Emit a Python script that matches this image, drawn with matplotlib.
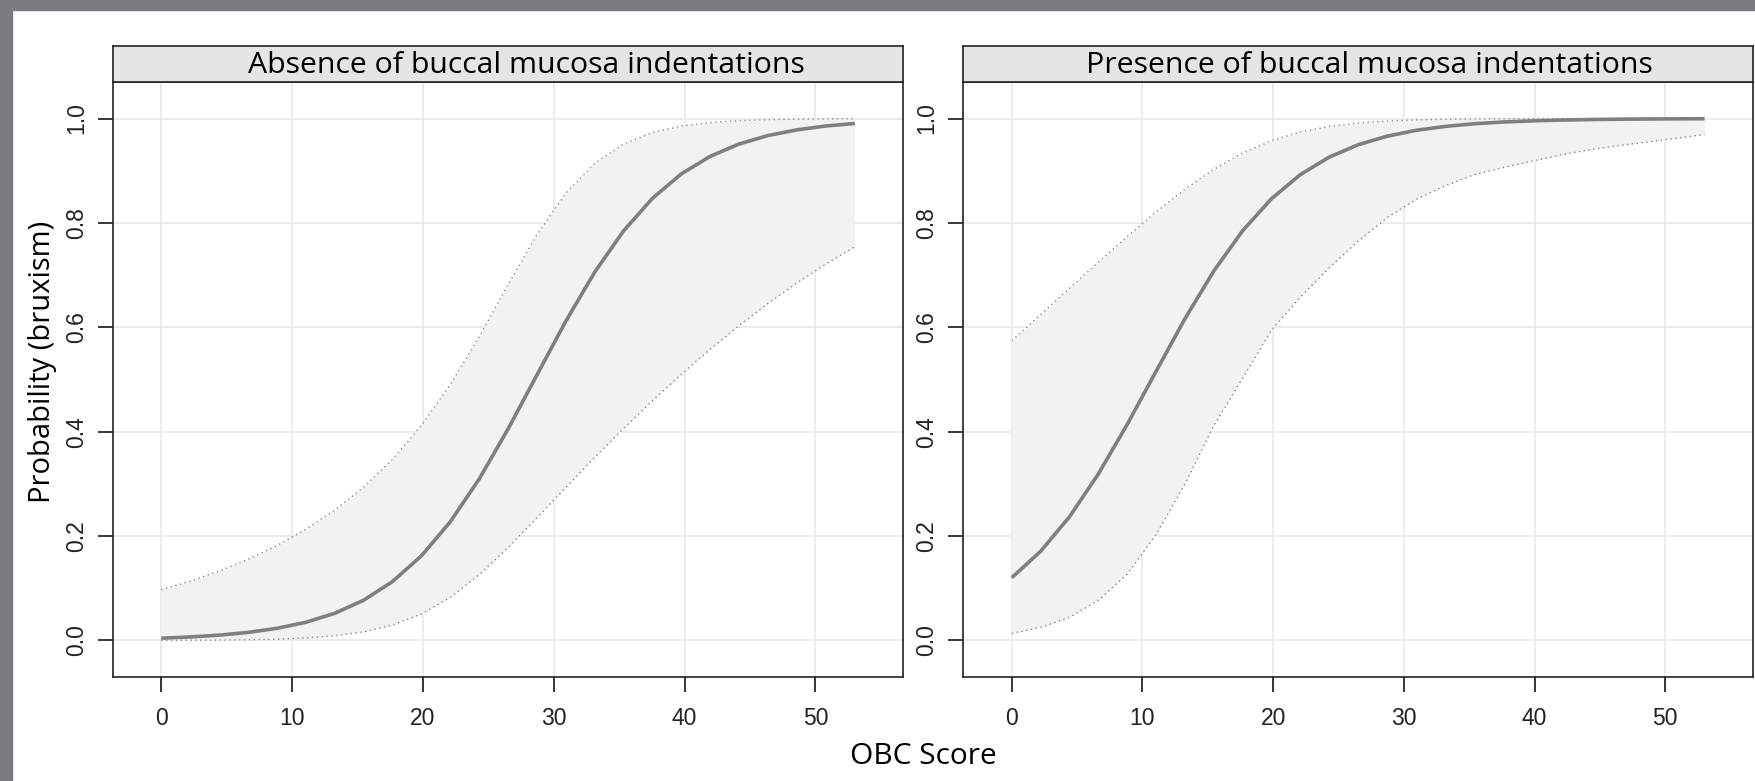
import numpy as np
import matplotlib.pyplot as plt
from matplotlib.patches import Rectangle

# OBC score grid used for the predictions
obc_score = [0, 2.21, 4.42, 6.63, 8.83, 11.04, 13.25, 15.46, 17.67, 19.88, 22.08, 24.29,
             26.5, 28.71, 30.92, 33.13, 35.33, 37.54, 39.75, 41.96, 44.17, 46.38, 48.58,
             50.79, 53.0]

# panel 1: absence of buccal mucosa indentations
absent_fit = [0.0044, 0.0067, 0.0102, 0.0154, 0.0232, 0.0348, 0.0520, 0.0770, 0.1128,
              0.1621, 0.2271, 0.3090, 0.4049, 0.5087, 0.6118, 0.7058, 0.7847, 0.8472,
              0.8940, 0.9277, 0.9513, 0.9675, 0.9783, 0.9857, 0.9905]
absent_upper = [0.0972, 0.1135, 0.1328, 0.1554, 0.1817, 0.2127, 0.2496, 0.2936, 0.3468,
                0.4117, 0.4898, 0.5815, 0.6814, 0.7773, 0.8568, 0.9141, 0.9510, 0.9731,
                0.9856, 0.9924, 0.9960, 0.9979, 0.9989, 0.99945, 0.99972]
absent_lower = [0.0002, 0.0004, 0.0007, 0.0013, 0.0025, 0.0048, 0.0090, 0.0165, 0.0295,
                0.0508, 0.0825, 0.1257, 0.1780, 0.2351, 0.2934, 0.3509, 0.4061, 0.4593,
                0.5102, 0.5580, 0.6035, 0.6459, 0.6850, 0.7213, 0.7543]

# panel 2: presence of buccal mucosa indentations
present_fit = [0.1203, 0.1709, 0.2372, 0.3193, 0.4139, 0.5157, 0.6166, 0.7080, 0.7853,
               0.8466, 0.8926, 0.9261, 0.9498, 0.9661, 0.9773, 0.9848, 0.9899, 0.9933,
               0.9955, 0.9970, 0.9980, 0.9987, 0.9991, 0.9994, 0.9996]
present_upper = [0.5742, 0.6243, 0.6748, 0.7249, 0.7738, 0.8210, 0.8646, 0.9028, 0.9341,
                 0.9578, 0.9743, 0.9849, 0.9914, 0.9952, 0.9974, 0.9986, 0.99925, 0.9996,
                 0.9998, 0.9999, 0.99994, 0.99997, 0.99998, 0.99999, 0.99999]
present_lower = [0.0137, 0.0249, 0.0445, 0.0770, 0.1272, 0.2030, 0.3000, 0.4120, 0.5030,
                 0.5950, 0.6580, 0.7140, 0.7650, 0.8100, 0.8450, 0.8710, 0.8920, 0.9060,
                 0.9180, 0.9300, 0.9400, 0.9480, 0.9550, 0.9620, 0.9695]

panel_titles = ['Absence of buccal mucosa indentations',
                'Presence of buccal mucosa indentations']
x_ticks = [0, 10, 20, 30, 40, 50]
y_ticks = [0.0, 0.2, 0.4, 0.6, 0.8, 1.0]

W, H = 1756, 781
fig = plt.figure(figsize=(W / 100, H / 100), dpi=100)
fig.patch.set_facecolor('white')

# grey frame of the screenshot (top and left)
fig.patches.append(Rectangle((0, 1 - 10 / H), 1, 10 / H, transform=fig.transFigure,
                             color='#787c80', zorder=0))
fig.patches.append(Rectangle((0, 0), 12 / W, 1, transform=fig.transFigure,
                             color='#787c80', zorder=0))

tick_font = 'Liberation Sans'
label_font = 'Open Sans'

# panel edges in pixels, strip text centre in pixels
panels = [
    (112.7, 903.3, 526.5, absent_fit, absent_upper, absent_lower, panel_titles[0]),
    (963.3, 1753.0, 1369.5, present_fit, present_upper, present_lower, panel_titles[1]),
]
plot_top, plot_bottom, strip_top = 82, 677, 46

for x0, x1, xc, fit, upper, lower, title in panels:
    ax = fig.add_axes([x0 / W, 1 - plot_bottom / H, (x1 - x0) / W, (plot_bottom - plot_top) / H])
    ax.set_xlim(-3.71, 56.71)
    ax.set_ylim(-0.07, 1.07)

    for xv in x_ticks:
        ax.axvline(xv, color='#ebebeb', lw=1.3, zorder=0)
    for yv in y_ticks:
        ax.axhline(yv, color='#ebebeb', lw=1.3, zorder=0)

    ax.fill_between(obc_score, lower, upper, color='#f2f2f2', lw=0, zorder=1)
    ax.plot(obc_score, upper, color='#8a8a8a', lw=1.0, ls=(0, (1, 2.5)), zorder=2)
    ax.plot(obc_score, lower, color='#8a8a8a', lw=1.0, ls=(0, (1, 2.5)), zorder=2)
    ax.plot(obc_score, fit, color='#7f7f7f', lw=2.6, zorder=3, solid_capstyle='butt')

    ax.set_xticks(x_ticks)
    ax.set_yticks(y_ticks)
    ax.set_yticklabels([f'{v:.1f}' for v in y_ticks])
    ax.tick_params(direction='out', length=10.8, width=1.1, top=False, right=False,
                   labelsize=16.5, color='black')
    ax.tick_params(axis='x', pad=10.5)
    ax.tick_params(axis='y', pad=7, labelrotation=90)
    for lab in ax.get_xticklabels() + ax.get_yticklabels():
        lab.set_fontfamily(tick_font)
        lab.set_color('#222222')
    for lab in ax.get_yticklabels():
        lab.set_va('center')
    for sp in ax.spines.values():
        sp.set_linewidth(1.2)
        sp.set_color('#222222')

    # strip with the panel title
    st = fig.add_axes([x0 / W, 1 - plot_top / H, (x1 - x0) / W, (plot_top - strip_top) / H])
    st.set_facecolor('#e5e5e5')
    st.set_xticks([])
    st.set_yticks([])
    for sp in st.spines.values():
        sp.set_linewidth(1.2)
        sp.set_color('#222222')
    st.text((xc - x0) / (x1 - x0), 0.45, title, ha='center', va='center', fontsize=21.8,
            family=label_font, color='black', transform=st.transAxes)

fig.text(923 / W, 1 - 757 / H, 'OBC Score', ha='center', va='center',
         fontsize=21.5, family=label_font, color='black')
fig.text(43 / W, 1 - 362 / H, 'Probability (bruxism)', ha='center', va='center',
         rotation=90, fontsize=21, family=label_font, color='black')

fig.savefig('out.png', dpi=100)
